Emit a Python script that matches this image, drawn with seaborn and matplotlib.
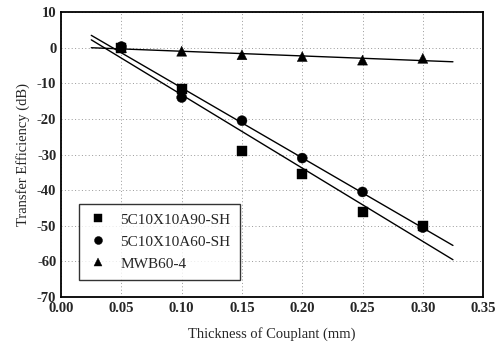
import numpy as np
import pandas as pd
import matplotlib
matplotlib.use("Agg")
import matplotlib.pyplot as plt
import seaborn as sns
from matplotlib.ticker import MultipleLocator

# thickness of couplant (mm)
thickness = [0.05, 0.10, 0.15, 0.20, 0.25, 0.30]
# transfer efficiency (dB) per transducer
eff_a90 = [0.0, -11.5, -29.0, -35.5, -46.0, -50.0]
eff_a60 = [0.3, -14.0, -20.5, -31.0, -40.5, -50.5]
eff_mwb = [0.0, -1.0, -2.0, -2.5, -3.5, -3.0]
labels = ["5C10X10A90-SH", "5C10X10A60-SH", "MWB60-4"]
markers = ["s", "o", "^"]
fit_range = [0.025, 0.325]

sns.set_style("white")
plt.rcParams['font.family'] = ['Liberation Serif', 'DejaVu Serif']
plt.rcParams['axes.unicode_minus'] = False

df = pd.DataFrame({
    "x": thickness * 3,
    "y": eff_a90 + eff_a60 + eff_mwb,
    "probe": [l for l in labels for _ in thickness],
})

fig = plt.figure(figsize=(4.97, 3.43), dpi=100)
ax = fig.add_axes([0.123, 0.134, 0.849, 0.831])

# least-squares lines, drawn over the same span as the original
for series in (eff_a90, eff_a60, eff_mwb):
    slope, icpt = np.polyfit(thickness, series, 1)
    xs = np.array(fit_range)
    ax.plot(xs, slope * xs + icpt, color="black", lw=1.0, zorder=2)

sns.scatterplot(data=df, x="x", y="y", hue="probe", style="probe",
                hue_order=labels, style_order=labels,
                palette=["black"] * 3, markers=dict(zip(labels, markers)),
                s=52, edgecolor="black", linewidth=0.3, ax=ax, zorder=3)

ax.set_xlim(0, 0.35)
ax.set_ylim(-70, 10)
ax.xaxis.set_major_locator(MultipleLocator(0.05))
ax.xaxis.set_minor_locator(MultipleLocator(0.025))
ax.yaxis.set_major_locator(MultipleLocator(10))
ax.yaxis.set_minor_locator(MultipleLocator(5))
ax.xaxis.set_major_formatter(matplotlib.ticker.FormatStrFormatter("%.2f"))
ax.grid(True, which="major", color="#999999", ls=(0, (1, 2.5)), lw=0.7)
ax.tick_params(which="both", direction="in", top=False, right=False,
               labelsize=10.5, width=1)
ax.tick_params(which="major", length=4)
ax.tick_params(which="minor", length=2.5)
for sp in ax.spines.values():
    sp.set_color("black")
    sp.set_linewidth(1.3)
for t in ax.get_xticklabels() + ax.get_yticklabels():
    t.set_fontweight("bold")

ax.set_xlabel("Thickness of Couplant (mm)", fontsize=10.5, labelpad=9)
ax.set_ylabel("Transfer Efficiency (dB)", fontsize=10.5, labelpad=5)

leg = ax.legend(loc="lower left", bbox_to_anchor=(0.043, 0.06), fontsize=11,
                frameon=True, fancybox=False, edgecolor="black",
                borderaxespad=0, borderpad=0.6, labelspacing=0.55,
                handlelength=1.2, handletextpad=0.9, markerscale=0.8)
leg.get_frame().set_linewidth(1.0)

fig.savefig("out.png", dpi=100)
